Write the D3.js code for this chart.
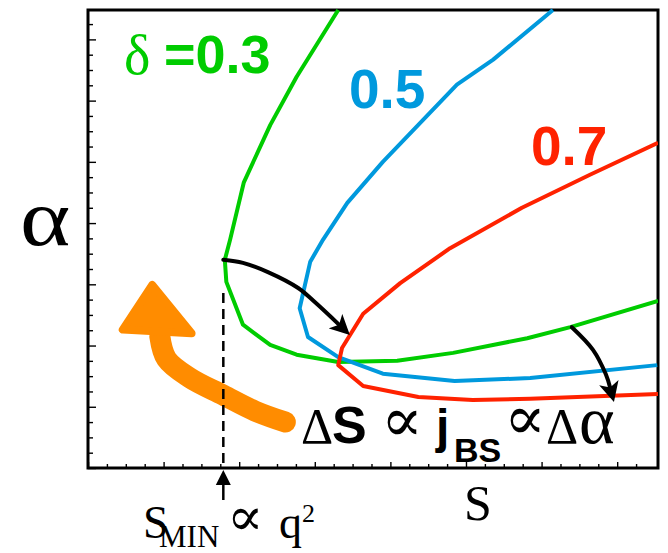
<!DOCTYPE html>
<html>
<head>
<meta charset="utf-8">
<script src="https://cdn.jsdelivr.net/npm/d3@7"></script>
<style>
	html, body { margin: 0; padding: 0; background: #fff; }
	svg { display: block; }
	.serif { font-family: "Liberation Serif", "DejaVu Serif", serif; }
	.sans { font-family: "Liberation Sans", Arial, sans-serif; font-weight: bold; }
</style>
</head>
<body>
<svg id="chart" width="668" height="553"></svg>
<script>
// curves in (S, alpha)
var greenCurve = [[3.31, 7.48], [2.76, 6.39], [2.41, 5.60], [2.06, 4.66], [1.88, 3.73], [1.81, 3.40],
	[1.83, 3.04], [2.05, 2.34], [2.41, 2.01], [2.76, 1.85], [3.31, 1.73], [4.09, 1.75], [4.83, 1.88],
	[5.81, 2.12], [6.38, 2.30], [7.54, 2.73]];
var blueCurve = [[6.15, 7.48], [5.36, 6.67], [4.88, 6.26], [3.90, 5.00], [3.43, 4.33], [3.11, 3.73],
	[2.94, 3.37], [2.80, 2.61], [2.91, 2.14], [3.31, 1.81], [3.90, 1.54], [4.85, 1.42], [5.85, 1.47],
	[7.53, 1.68]];
var redCurve = [[7.54, 5.31], [6.64, 4.79], [5.74, 4.25], [4.79, 3.59], [4.13, 3.02], [3.64, 2.52],
	[3.36, 1.96], [3.31, 1.68], [3.64, 1.34], [4.37, 1.16], [5.09, 1.11], [5.85, 1.13], [7.54, 1.21]];

// black arrows and the orange one
var shiftArrow = [[1.79, 3.40], [2.05, 3.35], [2.38, 3.20], [2.78, 2.94], [3.00, 2.71], [3.33, 2.33]];
var dropArrow = [[6.40, 2.30], [6.68, 1.93], [6.85, 1.53], [6.91, 1.30]];
var orangeBody = [[2.61, 0.75], [2.21, 0.93], [1.79, 1.19], [1.35, 1.47], [1.04, 1.78], [0.95, 2.15]];
var orangeHead = [[0.85, 2.99], [0.46, 2.26], [1.37, 2.20]];

var sMin = 1.79;
var sMinTop = 2.86;
var sMajor = [0, 1, 2, 3, 4, 5, 6, 7];
var aMajor = [0, 1, 2, 3, 4, 5, 6, 7];

(function () {
	var svg = d3.select('#chart');
	var mLeft = 88, mRight = 658, mTop = 10, mBottom = 468;

	var x = d3.scaleLinear().domain([0, 7.54]).range([mLeft, mRight]);
	var y = d3.scaleLinear().domain([0, 7.48]).range([mBottom, mTop]);

	var defs = svg.append('defs');
	defs.append('clipPath').attr('id', 'plot')
		.append('rect').attr('x', mLeft).attr('y', mTop - 4)
		.attr('width', mRight - mLeft).attr('height', mBottom - mTop + 4);
	defs.append('marker')
		.attr('id', 'head')
		.attr('viewBox', '0 0 10 10')
		.attr('refX', 3).attr('refY', 5)
		.attr('markerWidth', 5).attr('markerHeight', 5)
		.attr('markerUnits', 'strokeWidth')
		.attr('orient', 'auto')
		.append('path').attr('d', 'M0,0 L10,5 L0,10 L2.5,5 Z').attr('fill', '#000');

	// ticks
	var minorS = d3.range(0, 7.5, 0.25).filter(function (v) { return v % 1 !== 0; });
	var minorA = d3.range(0, 7.5, 0.25).filter(function (v) { return v % 1 !== 0; });

	function tickAxis(g) {
		g.select('.domain').remove();
		g.selectAll('line').attr('stroke', '#000').attr('stroke-width', 1.4);
		g.selectAll('text').remove();
	}
	svg.append('g').attr('transform', 'translate(' + mLeft + ',0)')
		.call(d3.axisLeft(y).tickValues(minorA).tickSize(-5)).call(tickAxis);
	svg.append('g').attr('transform', 'translate(' + mLeft + ',0)')
		.call(d3.axisLeft(y).tickValues(aMajor).tickSize(-8)).call(tickAxis);
	svg.append('g').attr('transform', 'translate(0,' + mBottom + ')')
		.call(d3.axisBottom(x).tickValues(minorS).tickSize(-4)).call(tickAxis);
	svg.append('g').attr('transform', 'translate(0,' + mBottom + ')')
		.call(d3.axisBottom(x).tickValues(sMajor).tickSize(-6)).call(tickAxis);

	svg.append('rect')
		.attr('x', mLeft).attr('y', mTop)
		.attr('width', mRight - mLeft).attr('height', mBottom - mTop)
		.attr('fill', 'none').attr('stroke', '#000').attr('stroke-width', 3);

	var line = d3.line().x(function (d) { return x(d[0]); }).y(function (d) { return y(d[1]); });
	var closed = d3.line().curve(d3.curveLinearClosed).x(function (d) { return x(d[0]); }).y(function (d) { return y(d[1]); });
	var smooth = d3.line().curve(d3.curveCatmullRom).x(function (d) { return x(d[0]); }).y(function (d) { return y(d[1]); });

	var plot = svg.append('g').attr('clip-path', 'url(#plot)');

	// orange arrow
	plot.append('path').datum(orangeBody).attr('d', smooth)
		.attr('fill', 'none').attr('stroke', '#ff8c00').attr('stroke-width', 21).attr('stroke-linecap', 'round');
	plot.append('path').datum(orangeHead).attr('d', closed)
		.attr('fill', '#ff8c00').attr('stroke', '#ff8c00').attr('stroke-width', 8).attr('stroke-linejoin', 'round');

	// dashed S_min line
	plot.append('line')
		.attr('x1', x(sMin)).attr('x2', x(sMin))
		.attr('y1', y(sMinTop)).attr('y2', y(0))
		.attr('stroke', '#000').attr('stroke-width', 2.5).attr('stroke-dasharray', '10,6');

	[[greenCurve, '#00cc00'], [blueCurve, '#0099dd'], [redCurve, '#ff2200']].forEach(function (c) {
		plot.append('path').datum(c[0]).attr('d', line)
			.attr('fill', 'none').attr('stroke', c[1]).attr('stroke-width', 4).attr('stroke-linejoin', 'round');
	});

	[shiftArrow, dropArrow].forEach(function (a) {
		plot.append('path').datum(a).attr('d', smooth)
			.attr('fill', 'none').attr('stroke', '#000').attr('stroke-width', 4)
			.attr('stroke-linecap', 'round').attr('marker-end', 'url(#head)');
	});

	// arrow under the axis
	var ax = x(sMin);
	svg.append('line').attr('x1', ax).attr('x2', ax).attr('y1', 482).attr('y2', 500)
		.attr('stroke', '#000').attr('stroke-width', 2.5);
	svg.append('path').attr('d', 'M' + ax + ',470 L' + (ax - 7.5) + ',485 L' + (ax + 7.5) + ',485 Z').attr('fill', '#000');

	// labels
	function txt(cls, xp, yp, size, color, s) {
		return svg.append('text').attr('class', cls).attr('x', xp).attr('y', yp)
			.attr('font-size', size).attr('fill', color).text(s);
	}
	txt('serif', 124, 74, 56, '#00cc00', 'δ');
	txt('sans', 164, 73, 54, '#00cc00', '=0.3');
	txt('sans', 349, 108, 55, '#0099dd', '0.5');
	txt('sans', 531, 165, 55, '#ff2200', '0.7');

	txt('serif', 301, 443, 50, '#000', 'Δ');
	txt('sans', 332, 443, 52, '#000', 'S');
	txt('serif', 381, 441, 62, '#000', '∝');
	txt('sans', 436, 443, 48, '#000', 'j');
	txt('sans', 454, 462, 34, '#000', 'BS');
	txt('serif', 504, 439, 62, '#000', '∝');
	txt('serif', 546, 443, 50, '#000', 'Δ');
	txt('serif', 579, 443, 68, '#000', 'α');

	txt('serif', 0, 0, 80, '#000', 'α').attr('transform', 'translate(20,245) scale(1.2,1)');
	txt('serif', 464, 520, 50, '#000', 'S');

	txt('serif', 143, 538, 46, '#000', 'S');
	txt('serif', 159, 547, 31, '#000', 'MIN');
	txt('serif', 227, 535, 54, '#000', '∝');
	txt('serif', 279, 538, 46, '#000', 'q');
	txt('serif', 302, 522, 26, '#000', '2');
})();
</script>
</body>
</html>
